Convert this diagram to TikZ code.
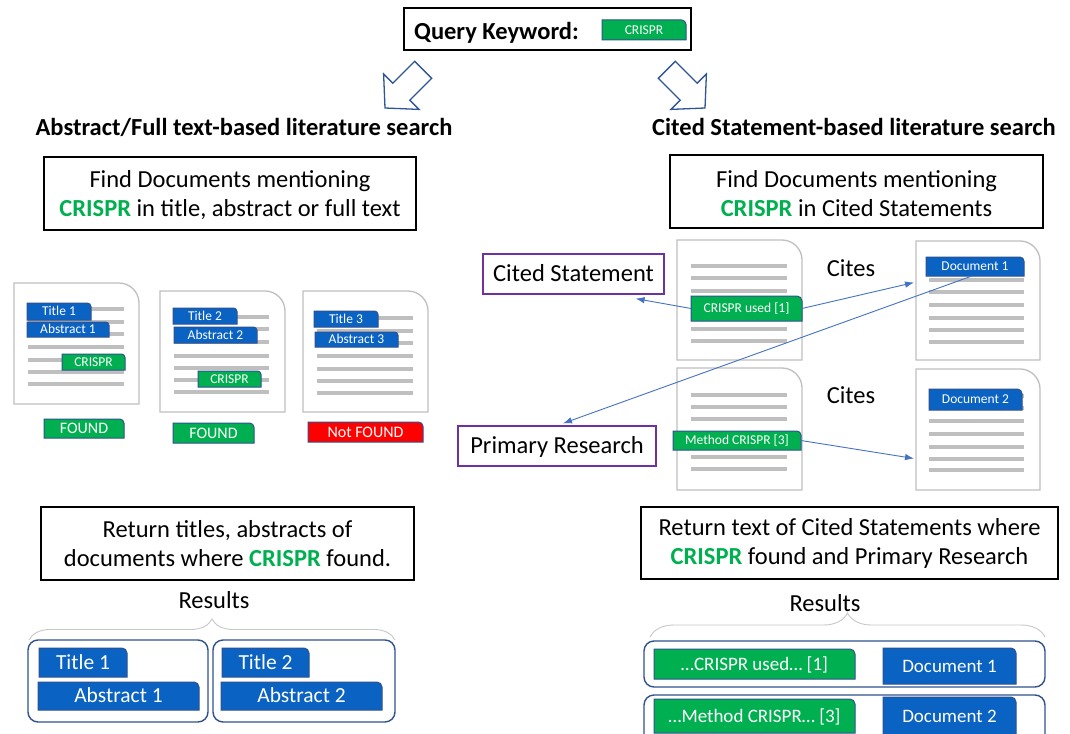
\documentclass[tikz,border=0pt]{standalone}
\usepackage{fontspec}
\setmainfont{Carlito}
\usetikzlibrary{calc,arrows.meta,decorations.pathreplacing}

\definecolor{tagblue}{HTML}{0A62C2}
\definecolor{tagedge}{HTML}{2F528F}
\definecolor{taggreen}{HTML}{00B050}
\definecolor{tagred}{HTML}{FF0000}
\definecolor{pagegray}{HTML}{BFBFBF}
\definecolor{linkblue}{HTML}{4472C4}
\definecolor{arrowblue}{HTML}{2F5597}
\definecolor{notepurple}{HTML}{7030A0}
\definecolor{bracegray}{HTML}{C8C8C8}
\definecolor{keygreen}{HTML}{00B050}

\newcommand{\txtL}{\fontsize{24.5}{29}\selectfont}
\newcommand{\kw}{\textcolor{keygreen}{\textbf{CRISPR}}}

% coloured label with one rounded (top right) corner
% #1 fill, #2 font size, #3 name, #4 x1, #5 y1, #6 x2, #7 y2, #8 text
\newcommand{\tagbox}[8]{%
  \pgfmathsetmacro{\tbw}{#6-#4}%
  \pgfmathsetmacro{\tbh}{#7-#5}%
  \pgfmathsetmacro{\tbr}{min(5,0.22*\tbh)}%
  \pgfmathsetmacro{\tth}{0.9*#2}%
  \pgfmathsetmacro{\ttd}{0.256*#2}%
  \draw[tagframe, fill=#1] (#4,#7) -- (#4,#5) -- ({#6-\tbr},#5)
    .. controls ({#6-0.45*\tbr},#5) and (#6,{#5+0.45*\tbr}) .. (#6,{#5+\tbr})
    -- (#6,#7) -- cycle;
  \node[tagtext, font=\fontsize{#2}{#2}\selectfont,
        text height=\tth pt, text depth=\ttd pt,
        minimum width=\tbw pt, minimum height=\tbh pt]
    (#3) at ({(#4+#6)/2},{(#5+#7)/2}) {#8};
}

% document page with a rounded top right corner
% #1 name, #2 x1, #3 y1, #4 x2, #5 y2
\newcommand{\docpage}[5]{%
  \draw[pageframe] (#2,#5) -- (#2,#3) -- ({#4-20},#3)
    .. controls ({#4-9},#3) and (#4,{#3+9}) .. (#4,{#3+20}) -- (#4,#5) -- cycle;
  \pgfmathsetmacro{\pw}{#4-#2}%
  \pgfmathsetmacro{\ph}{#5-#3}%
  \node[pagenode, minimum width=\pw pt, minimum height=\ph pt]
    (#1) at ({(#2+#4)/2},{(#3+#5)/2}) {};
}

% grey text lines on a page: #1 x1, #2 x2, #3 list of y
\newcommand{\textlines}[3]{%
  \foreach \ly in {#3} {\draw[textline] (#1,\ly) -- (#2,\ly);}
}

\tikzset{
  box/.style={draw=black, line width=1.4pt, inner sep=0pt, align=center, font=\txtL},
  note/.style={draw=notepurple, line width=1.2pt, inner sep=0pt, font=\txtL,
    text height=22pt, text depth=6.3pt},
  heading/.style={inner sep=0pt, font=\txtL\bfseries, text height=22pt, text depth=6.3pt},
  plain/.style={inner sep=0pt, font=\txtL, text height=22pt, text depth=6.3pt},
  tagframe/.style={draw=tagedge, line width=1pt},
  tagtext/.style={inner sep=0pt, outer sep=0pt, text=white},
  pageframe/.style={draw=pagegray, line width=1.3pt, fill=white},
  pagenode/.style={inner sep=0pt, outer sep=0pt},
  textline/.style={draw=pagegray, line width=3.5pt},
  link/.style={draw=linkblue, line width=0.9pt, -{Latex[length=9pt,width=6.5pt]}},
  blockarrow/.style={draw=arrowblue, line width=1.3pt, fill=white, line join=miter},
  holder/.style={draw=tagedge, line width=1.4pt, rounded corners=10pt, inner sep=0pt},
  resultbrace/.style={draw=bracegray, line width=0.9pt, decorate,
    decoration={brace, amplitude=#1}},
}

\begin{document}
\begin{tikzpicture}[x=1pt, y=-1pt]
\useasboundingbox (0,0) rectangle (1070,733);
\clip (0,0) rectangle (1070,733);
\fill[white] (0,0) rectangle (1070,733);

% ---------- query ----------
\node[box, minimum width=287pt, minimum height=42pt] (query) at (547.5,29) {};
\node[plain, font=\txtL\bfseries, anchor=west] (qlabel) at (414,31.5) {Query Keyword:};
\tagbox{taggreen}{13.5}{qkey}{602}{20}{686}{40}{CRISPR}

% block arrows towards the two search modes
\draw[blockarrow] (385,108) -- (419.0,109.4) -- (409.8,100.2) -- (431.7,78.3)
  -- (414.7,61.3) -- (392.8,83.2) -- (383.6,74.0) -- cycle;
\draw[blockarrow] (705,108) -- (671.0,109.4) -- (680.2,100.2) -- (658.3,78.3)
  -- (675.3,61.3) -- (697.2,83.2) -- (706.4,74.0) -- cycle;

\node[heading] (hleft) at (244,128) {Abstract/Full text-based literature search};
\node[heading] (hright) at (854,128) {Cited Statement-based literature search};

\node[box, minimum width=372pt, minimum height=73pt] (findL) at (230,193.5) {};
\node[box, draw=none] (findLt) at (230,195.5)
  {Find Documents mentioning\\\kw{} in title, abstract or full text};
\node[box, minimum width=373pt, minimum height=73pt] (findR) at (856.5,191.5) {};
\node[box, draw=none] (findRt) at (856.5,193.5)
  {Find Documents mentioning\\\kw{} in Cited Statements};

% ---------- left: full text search ----------
\docpage{pL1}{14}{283}{139}{404}
\textlines{28}{124}{309,322,334,347,360,372,384}
\tagbox{tagblue}{13.5}{t1}{27}{303}{91}{320}{Title 1}
\tagbox{tagblue}{13.5}{a1}{27}{322}{109}{337}{Abstract 1}
\tagbox{taggreen}{13.5}{k1}{62}{354}{125}{370}{CRISPR}

\docpage{pL2}{160}{291}{285}{412}
\textlines{174}{269}{317,329,342,356,368,380,392}
\tagbox{tagblue}{13.5}{t2}{173}{308}{237}{324}{Title 2}
\tagbox{tagblue}{13.5}{a2}{174}{327}{257}{343}{Abstract 2}
\tagbox{taggreen}{13.5}{k2}{198}{371}{261}{387}{CRISPR}

\docpage{pL3}{303}{291}{428}{412}
\textlines{317}{413}{318,331,343,356,369,381,393}
\tagbox{tagblue}{13.5}{t3}{314}{311}{378}{327}{Title 3}
\tagbox{tagblue}{13.5}{a3}{315}{332}{398}{347}{Abstract 3}

\tagbox{taggreen}{16}{f1}{44}{419}{124}{438}{FOUND}
\tagbox{taggreen}{16}{f2}{173}{423}{254}{443}{FOUND}
\tagbox{tagred}{16}{f3}{308}{422}{423}{442}{Not FOUND}

% ---------- right: cited statement search ----------
\docpage{pA}{677}{240}{802}{360}
\textlines{691}{787}{266,278,291,329,341}
\tagbox{taggreen}{13.5}{cu}{691}{296}{802}{321}{CRISPR used [1]}

\docpage{pB}{677}{368}{802}{490}
\textlines{691}{787}{395,407,419,457,469}
\tagbox{taggreen}{13.5}{mc}{673}{431}{801}{450}{Method CRISPR [3]}

\docpage{pR1}{916}{241}{1040}{360}
\textlines{929}{1024}{267,280,292,305,318,330,342}
\tagbox{tagblue}{13.5}{doc1}{926}{257}{1024}{276}{Document 1}

\docpage{pR2}{916}{369}{1040}{490}
\textlines{929}{1024}{396,408,421,434,447,459,470}
\tagbox{tagblue}{13.5}{doc2}{929}{389}{1022}{410}{Document 2}

\node[plain] (cites1) at (851,268.5) {Cites};
\node[plain] (cites2) at (851,396) {Cites};

\node[note, minimum width=181pt, minimum height=40pt] (cs) at (573.5,274) {Cited Statement};
\node[note, minimum width=198pt, minimum height=40pt] (pr) at (557,446) {Primary Research};

\coordinate (csin) at ($(cs.south east)+(-29,4)$);
\draw[link] (cu.west) -- (csin);
\draw[link] (cu.east) -- ($(pR1.west)+(-2,-18)$);
\draw[link] ($(doc1.south)+(-3,0)$) -- ($(pr.north)+(6,-2)$);
\draw[link] (mc.east) -- ($(pR2.west)+(-2,29)$);

% ---------- results ----------
\node[box, minimum width=373pt, minimum height=73pt] (retL) at (227.5,543.5)
  {Return titles, abstracts of\\documents where \kw{} found.};
\node[box, minimum width=417pt, minimum height=72pt] (retR) at (849.5,543)
  {Return text of Cited Statements where\\\kw{} found and Primary Research};

\node[plain] (resL) at (214,601) {Results};
\node[plain] (resR) at (825,604) {Results};

\draw[resultbrace=21pt] (29,640) -- (395,640);
\draw[resultbrace=24pt] (650,637) -- (1045,637);

\node[holder, minimum width=180pt, minimum height=82pt] (boxL1) at (118,681) {};
\node[holder, minimum width=182pt, minimum height=82pt] (boxL2) at (304,681) {};
\node[holder, minimum width=401pt, minimum height=46pt] (boxR1) at (844.5,664) {};
\node[holder, minimum width=401pt, minimum height=56pt] (boxR2) at (844.5,723) {};

\tagbox{tagblue}{21.5}{rt1}{39}{648}{127}{677}{Title 1}
\tagbox{tagblue}{21.5}{ra1}{38}{682}{199}{710}{Abstract 1}
\tagbox{tagblue}{21.5}{rt2}{222}{648}{309}{677}{Title 2}
\tagbox{tagblue}{21.5}{ra2}{221}{682}{382}{710}{Abstract 2}
\tagbox{taggreen}{19}{rs1}{654}{649}{855}{679}{…CRISPR used… [1]}
\tagbox{tagblue}{19}{rd1}{883}{648}{1016}{684}{Document 1}
\tagbox{taggreen}{19}{rs2}{654}{699}{855}{733}{…Method CRISPR… [3]}
\tagbox{tagblue}{19}{rd2}{883}{697}{1016}{735}{Document 2}
\end{tikzpicture}
\end{document}
